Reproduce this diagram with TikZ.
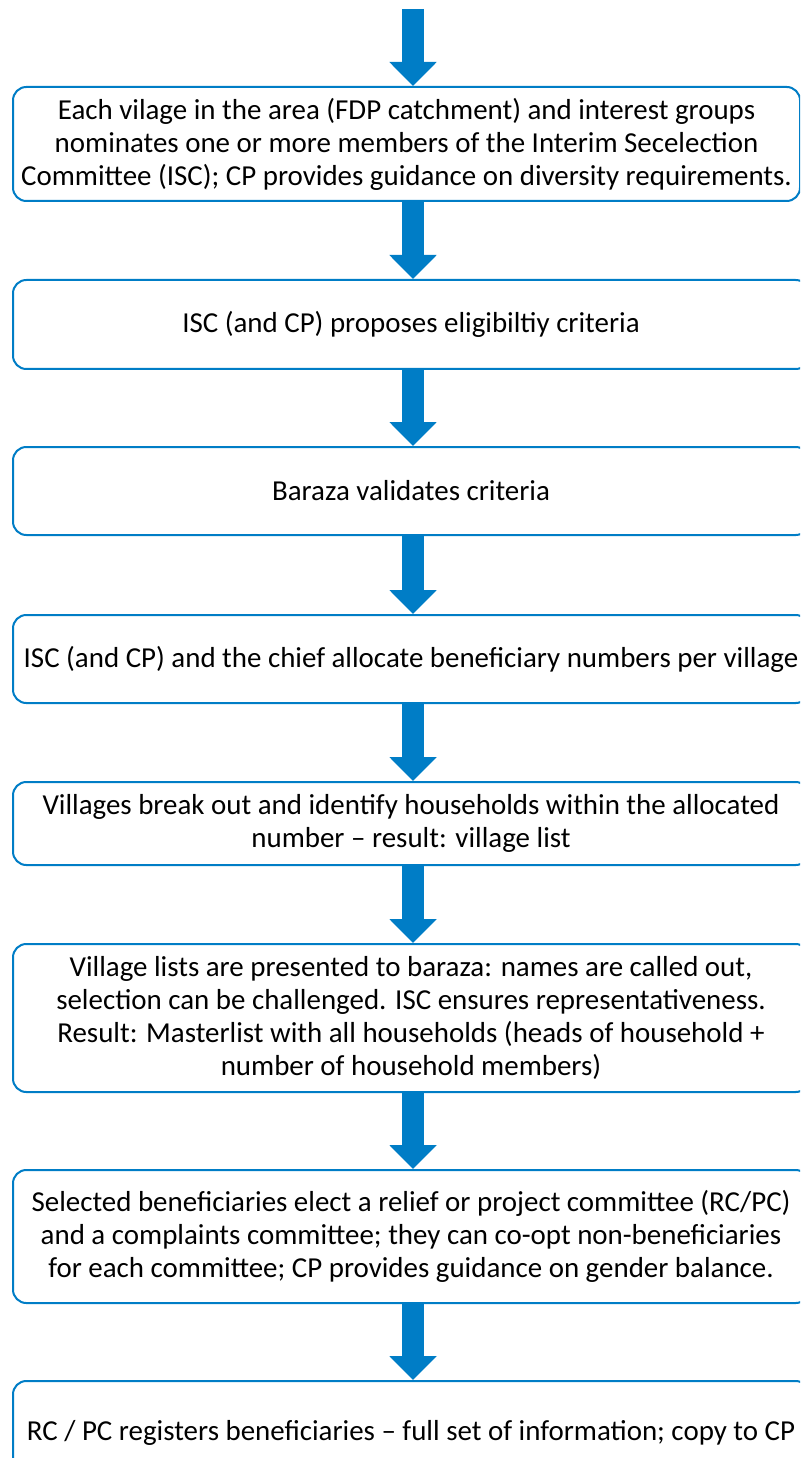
\documentclass[tikz,border=0pt]{standalone}
\usepackage{fontspec}
\setmainfont{Carlito}
\usetikzlibrary{arrows.meta}
\definecolor{flowblue}{RGB}{0,125,198}
\begin{document}
\begin{tikzpicture}[x=0.75pt,y=-0.75pt,
	stepbox/.style={draw=flowblue, line width=1.5pt, rounded corners=10pt,
		anchor=north west, minimum width=597pt, align=center,
		font=\fontsize{21.7}{24.75}\selectfont, inner sep=0pt},
	flow/.style={draw=flowblue, line width=16.5pt,
		-{Triangle[width=34.5pt,length=18pt]}}]
	\useasboundingbox (0,0) rectangle (800,1458);
	\clip (0,0) rectangle (800,1458);
	% Achse der Pfeile
	\coordinate (axis) at (413,0);
	\coordinate (start) at (413,9);
	% Schritte
	\node[stepbox, minimum width=590.25pt, minimum height=85.5pt] (nominate) at (12,86)
		{Each vilage in the area (FDP catchment) and interest groups\\
		nominates one or more members of the Interim Secelection\\
		Committee (ISC); CP provides guidance on diversity requirements.};
	\node[stepbox, minimum height=66.75pt] (criteria) at (12,279)
		{ISC (and CP) proposes eligibiltiy criteria};
	\node[stepbox, minimum height=66pt] (validate) at (12,446)
		{Baraza validates criteria};
	\node[stepbox, minimum height=66pt] (allocate) at (12,614)
		{ISC (and CP) and the chief allocate beneficiary numbers per village};
	\node[stepbox, minimum height=62.25pt] (villages) at (12,781)
		{Villages break out and identify households within the allocated\\
		number – result: village list};
	\node[stepbox, minimum height=111pt] (baraza) at (12,943)
		{Village lists are presented to baraza: names are called out,\\
		selection can be challenged. ISC ensures representativeness.\\
		Result: Masterlist with all households (heads of household +\\
		number of household members)};
	\node[stepbox, minimum height=99.75pt] (elect) at (12,1169)
		{Selected beneficiaries elect a relief or project committee (RC/PC)\\
		and a complaints committee; they can co-opt non-beneficiaries\\
		for each committee; CP provides guidance on gender balance.};
	\node[stepbox, minimum height=78pt] (register) at (12,1380)
		{RC / PC registers beneficiaries – full set of information; copy to CP};
	% Pfeile
	\draw[flow] (start) -- (nominate.north -| axis);
	\draw[flow] (nominate.south -| axis) -- (criteria.north -| axis);
	\draw[flow] (criteria.south -| axis) -- (validate.north -| axis);
	\draw[flow] (validate.south -| axis) -- (allocate.north -| axis);
	\draw[flow] (allocate.south -| axis) -- (villages.north -| axis);
	\draw[flow] (villages.south -| axis) -- (baraza.north -| axis);
	\draw[flow] (baraza.south -| axis) -- (elect.north -| axis);
	\draw[flow] (elect.south -| axis) -- (register.north -| axis);
\end{tikzpicture}
\end{document}
